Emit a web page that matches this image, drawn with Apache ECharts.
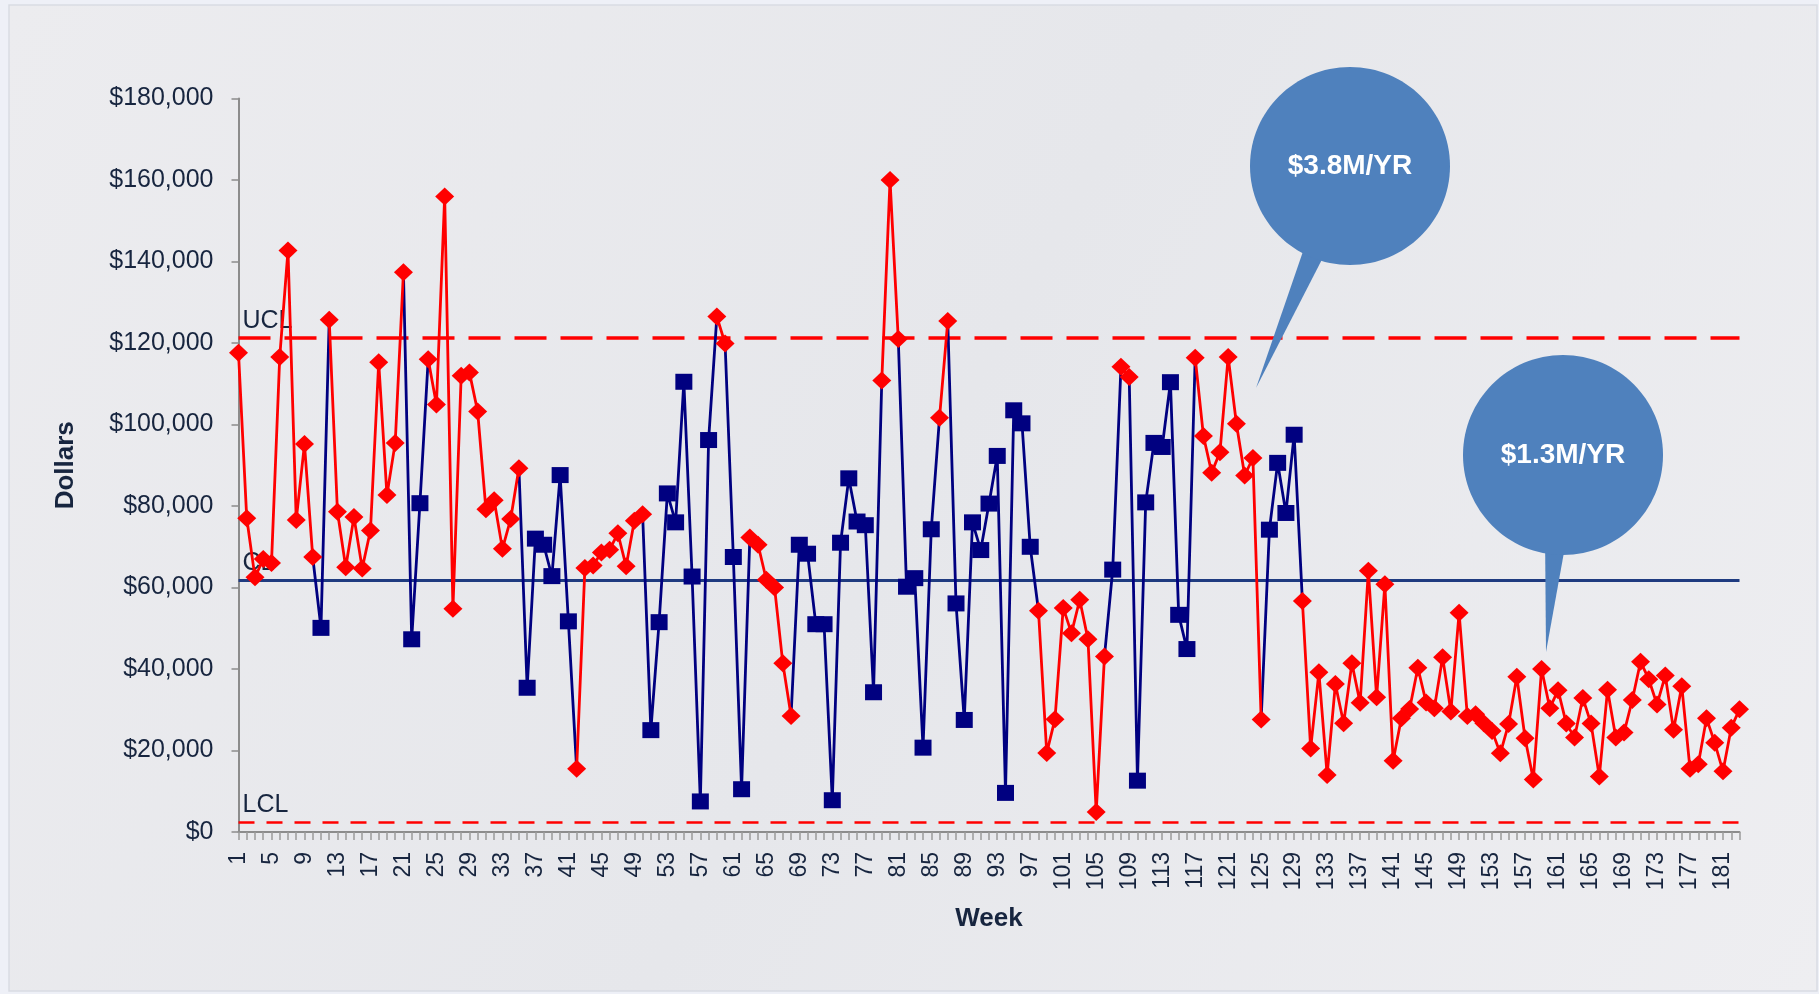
<!DOCTYPE html>
<html><head><meta charset="utf-8">
<script src="https://cdn.jsdelivr.net/npm/echarts@6/dist/echarts.min.js"></script>
<style>html,body{margin:0;padding:0;background:#EEF0F7;}#c{width:1819px;height:994px;}</style>
</head><body><div id="c"></div>
<script>
// ---- data ----
const weeks = [];
for (let w = 1; w <= 183; w++) weeks.push(String(w));

const dollars = [
 117600, 77000, 62500, 67000, 66000, 116600, 142700, 76600, 95200, 67500,
 50100, 125700, 78600, 65000, 77300, 64700, 74000, 115300, 82700, 95500,
 137400, 47300, 80700, 116000, 104900, 156000, 54800, 112000, 112800, 103200,
 79200, 81400, 69500, 76800, 89300, 35400, 72000, 70500, 62800, 87600,
 51700, 15500, 64800, 65400, 68600, 69300, 73300, 65200, 76400, 78000,
 25000, 51500, 83100, 76000, 110500, 62700, 7500, 96200, 126500, 119900,
 67500, 10500, 72300, 70500, 61900, 60000, 41400, 28500, 70500, 68300,
 51000, 51000, 7800, 71000, 86800, 76200, 75300, 34300, 110800, 160000,
 121000, 60200, 62300, 20700, 74300, 101700, 125400, 56100, 27500, 76000,
 69200, 80600, 92300, 9600, 103500, 100300, 70000, 54300, 19400, 27700,
 55000, 48800, 57000, 47300, 4900, 43100, 64400, 114200, 111700, 12600,
 80900, 95500, 94500, 110400, 53300, 44900, 116400, 97200, 88200, 93200,
 116600, 100200, 87500, 91800, 27600, 74200, 90600, 78300, 97500, 56700,
 20500, 39200, 14000, 36300, 26700, 41400, 31700, 64100, 33100, 60800,
 17500, 27900, 30200, 40300, 31800, 30400, 42900, 29600, 53800, 28500,
 28900, 26700, 24800, 19300, 26500, 38100, 23000, 12900, 40000, 30400,
 34800, 26600, 23200, 32900, 26600, 13600, 34900, 23200, 24400, 32400,
 41800, 37500, 31300, 38400, 25100, 35800, 15500, 16600, 27900, 21900,
 14900, 25600, 30100
];

// weeks drawn as navy squares
const blueWeeks = [11, 22, 23, 36, 37, 38, 39, 40, 41, 51, 52, 53, 54, 55, 56, 57, 58,
 61, 62, 69, 70, 71, 72, 73, 74, 75, 76, 77, 78, 82, 83, 84, 85,
 88, 89, 90, 91, 92, 93, 94, 95, 96, 97, 107, 110, 111, 112, 113, 114, 115, 116,
 126, 127, 128, 129];

const UCL = 121281, CL = 61867, LCL = 2452;
const yMin = 0, yMax = 180000, yStep = 20000;
const callouts = [
  { text: '$3.8M/YR' },
  { text: '$1.3M/YR' }
];

// ---- build ----
const FONT = "'Liberation Sans', Arial, sans-serif";
const TXT = '#17253F';
const RED = '#FF0000', NAVY = '#000080';
const blueSet = new Set(blueWeeks);
const isBlue = i => blueSet.has(i + 1);

const redData = dollars.map((v, i) => isBlue(i) ? null : v);

// contiguous blue runs, extended by one neighbour on each side
const runs = [];
let cur = null;
for (let i = 0; i < dollars.length; i++) {
  if (isBlue(i)) {
    if (!cur) { cur = { s: Math.max(0, i - 1), e: i }; }
    cur.e = i;
  } else if (cur) {
    cur.e = i; runs.push(cur); cur = null;
  }
}
if (cur) runs.push(cur);

const blueSeries = runs.map((r, k) => ({
  type: 'line', name: 'b' + k, z: 3,
  showAllSymbol: true, connectNulls: false, silent: true,
  lineStyle: { color: NAVY, width: 2.8 },
  itemStyle: { color: NAVY },
  symbol: 'rect', symbolSize: [17, 16],
  data: dollars.map((v, i) => {
    if (i < r.s || i > r.e) return null;
    return isBlue(i) ? { value: v } : { value: v, symbol: 'none' };
  })
}));

const fmt = v => '$' + Math.round(v).toLocaleString('en-US');
const lblStyle = { color: TXT, fontSize: 25, fontFamily: FONT, distance: 4 };

const markData = [
  { yAxis: UCL, lineStyle: { color: RED, type: [32, 14], width: 3.5 }, label: Object.assign({ formatter: 'UCL', position: 'insideStartTop' }, lblStyle) },
  { yAxis: UCL, lineStyle: { opacity: 0 }, label: Object.assign({ formatter: fmt(UCL), position: 'insideEndTop' }, lblStyle) },
  { yAxis: CL, lineStyle: { color: '#1F3B80', type: 'solid', width: 3.2 }, label: Object.assign({ formatter: 'CL', position: 'insideStartTop' }, lblStyle) },
  { yAxis: CL, lineStyle: { opacity: 0 }, label: Object.assign({ formatter: fmt(CL), position: 'insideEndTop' }, lblStyle) },
  { yAxis: LCL, lineStyle: { color: RED, type: [16, 12], width: 2.5 }, label: Object.assign({ formatter: 'LCL', position: 'insideStartTop' }, lblStyle) },
  { yAxis: LCL, lineStyle: { opacity: 0 }, label: Object.assign({ formatter: fmt(LCL), position: 'insideEndTop' }, lblStyle) }
];

const BUBBLE = '#4F81BD';
const option = {
  animation: false,
  backgroundColor: 'transparent',
  textStyle: { fontFamily: FONT },
  grid: { left: 238.5, right: 79.5, top: 98.6, bottom: 162, containLabel: false },
  xAxis: {
    type: 'category', data: weeks, boundaryGap: false,
    name: 'Week', nameLocation: 'middle', nameGap: 74,
    nameTextStyle: { color: TXT, fontSize: 26, fontWeight: 'bold', fontFamily: FONT },
    axisLine: { lineStyle: { color: '#8C8C8C', width: 2 } },
    axisTick: { show: true, interval: 0, length: 8, lineStyle: { color: '#9A9A9A', width: 1.5 } },
    axisLabel: { interval: 3, rotate: 90, margin: 20, color: TXT, fontSize: 23, fontFamily: FONT },
    splitLine: { show: false }
  },
  yAxis: {
    type: 'value', min: yMin, max: yMax, interval: yStep,
    name: 'Dollars', nameLocation: 'middle', nameGap: 160, nameRotate: 90,
    nameTextStyle: { color: TXT, fontSize: 26, fontWeight: 'bold', fontFamily: FONT },
    axisLine: { show: true, lineStyle: { color: '#8C8C8C', width: 2 } },
    axisTick: { show: true, length: 7, lineStyle: { color: '#8C8C8C', width: 1.5 } },
    axisLabel: { formatter: v => fmt(v), margin: 25, color: TXT, fontSize: 25, fontFamily: FONT },
    splitLine: { show: false }
  },
  series: blueSeries.concat([{
    type: 'line', name: 'red', z: 5,
    showAllSymbol: true, connectNulls: false, silent: true,
    lineStyle: { color: RED, width: 2.8 },
    itemStyle: { color: RED },
    symbol: 'diamond', symbolSize: [19, 18],
    data: redData,
    markLine: { silent: true, symbol: 'none', z: 2, data: markData }
  }]),
  graphic: [
    { type: 'rect', z: -10, shape: { x: 9, y: 5, width: 1808, height: 986 },
      style: { fill: new echarts.graphic.LinearGradient(0, 0, 1, 1, [
        { offset: 0, color: '#ECECEF' }, { offset: 0.5, color: '#E6E7EB' }, { offset: 1, color: '#EEEEF1' }]),
        stroke: '#D9DBE3', lineWidth: 1.5 } },
    { type: 'polygon', z: 100, shape: { points: [[1256, 388], [1309, 234], [1333, 238]] }, style: { fill: BUBBLE } },
    { type: 'ellipse', z: 100, shape: { cx: 1350, cy: 166, rx: 100, ry: 99 }, style: { fill: BUBBLE } },
    { type: 'text', z: 101, x: 1350, y: 166, style: { text: callouts[0].text, fill: '#FFFFFF', font: "bold 28px 'Liberation Sans', Arial, sans-serif", align: 'center', verticalAlign: 'middle' } },
    { type: 'polygon', z: 100, shape: { points: [[1546, 652], [1545, 530], [1568, 530]] }, style: { fill: BUBBLE } },
    { type: 'ellipse', z: 100, shape: { cx: 1563, cy: 455, rx: 100, ry: 100 }, style: { fill: BUBBLE } },
    { type: 'text', z: 101, x: 1563, y: 455, style: { text: callouts[1].text, fill: '#FFFFFF', font: "bold 28px 'Liberation Sans', Arial, sans-serif", align: 'center', verticalAlign: 'middle' } }
  ]
};
const chart = echarts.init(document.getElementById('c'), null, { renderer: 'canvas' });
chart.setOption(option);
</script></body></html>
